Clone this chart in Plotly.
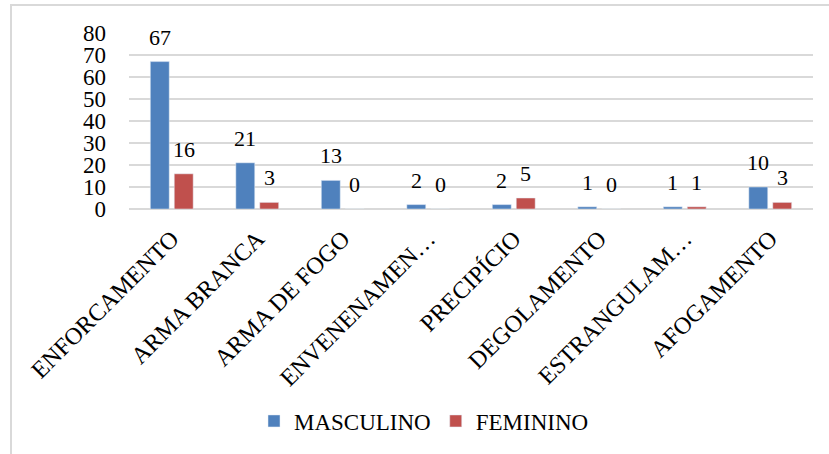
import plotly.graph_objects as go

categories = ["ENFORCAMENTO", "ARMA BRANCA", "ARMA DE FOGO", "ENVENENAMEN…",
              "PRECIPÍCIO", "DEGOLAMENTO", "ESTRANGULAM…", "AFOGAMENTO"]
masculino = [67, 21, 13, 2, 2, 1, 1, 10]
feminino = [16, 3, 0, 0, 5, 0, 1, 3]

BLUE = "#4f81bd"
RED = "#c0504d"
GRID = "#d9d9d9"
FONT = "Liberation Serif, Times New Roman, serif"

W, H = 829, 454
L, R, T, B = 129, 16, 33, 245
pw, ph = W - L - R, H - T - B
base = H - B  # pixel row of the zero line

fig = go.Figure()
fig.add_trace(go.Bar(name="MASCULINO", x=categories, y=masculino, marker_color=BLUE))
fig.add_trace(go.Bar(name="FEMININO", x=categories, y=feminino, marker_color=RED))

# value labels above each bar
annotations = []
for vals, shift in ((masculino, -12), (feminino, 12)):
    for c, v in zip(categories, vals):
        annotations.append(dict(
            x=c, y=v, xref="x", yref="y", text=str(v), showarrow=False,
            xshift=shift, yshift=10, yanchor="bottom",
            font=dict(family=FONT, size=22, color="#000000")))

# outer chart frame (left and top edges visible)
frame = dict(type="rect", xref="paper", yref="paper",
             x0=(11 - L) / pw, x1=(W + 5 - L) / pw,
             y0=(base - 5) / ph, y1=(base - (H + 10)) / ph,
             line=dict(color=GRID, width=2), fillcolor="rgba(0,0,0,0)", layer="below")

fig.update_layout(
    width=W, height=H,
    margin=dict(l=L, r=R, t=T, b=B),
    paper_bgcolor="white", plot_bgcolor="white",
    barmode="group", bargap=0.44, bargroupgap=0.21,
    font=dict(family=FONT, color="#000000"),
    showlegend=True,
    legend=dict(orientation="h", x=(424 - L) / pw, xanchor="center", y=(base - 421) / ph,
                yanchor="middle", font=dict(family=FONT, size=23),
                bgcolor="rgba(0,0,0,0)"),
    annotations=annotations,
    shapes=[frame],
)
fig.update_xaxes(tickangle=-45, tickfont=dict(family=FONT, size=24),
                 showgrid=False, showline=False, ticks="", ticklabelstandoff=10)
fig.update_yaxes(range=[0, 80], dtick=10, tickfont=dict(family=FONT, size=23),
                 showgrid=True, gridcolor=GRID, gridwidth=1.5,
                 zeroline=True, zerolinecolor=GRID, zerolinewidth=1.5,
                 showline=False, ticks="", ticklabelstandoff=22)

fig.write_html("out.html")
